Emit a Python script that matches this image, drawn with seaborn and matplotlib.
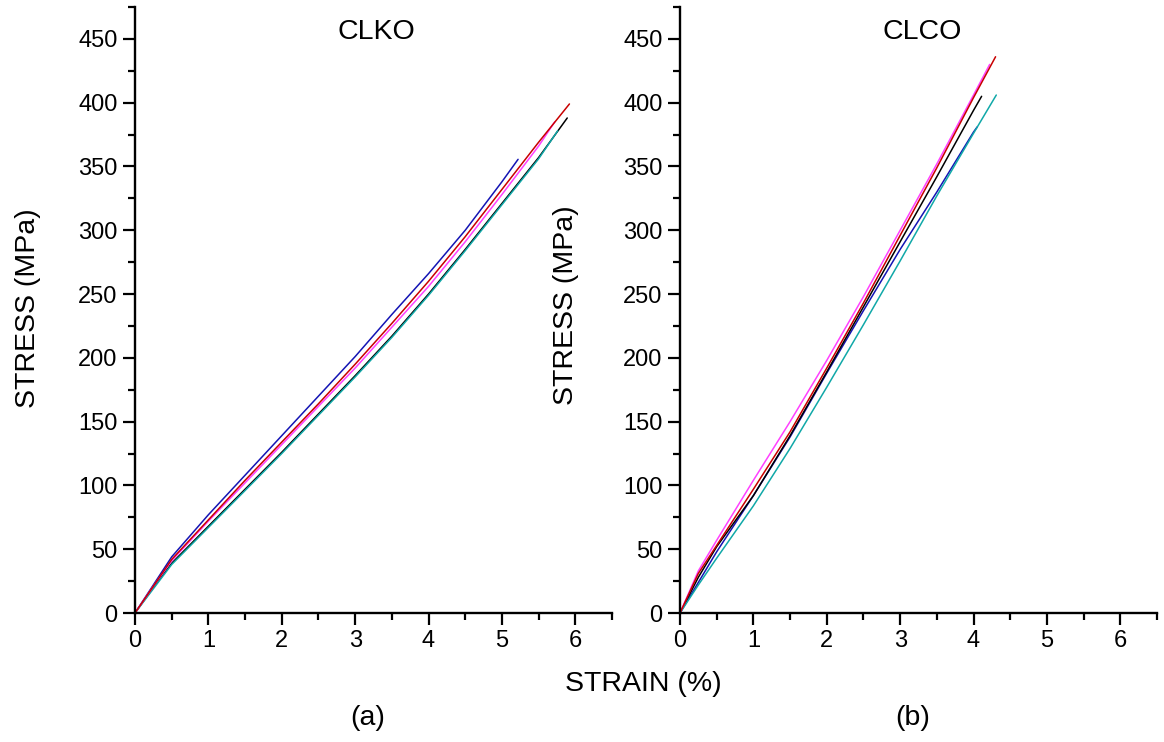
import numpy as np
import pandas as pd
import matplotlib
matplotlib.use("Agg")
import matplotlib.pyplot as plt
import seaborn as sns
from matplotlib.ticker import MultipleLocator

sns.set_style("ticks")
plt.rcParams['font.family'] = ['Liberation Sans', 'DejaVu Sans']
plt.rcParams['text.color'] = 'black'
plt.rcParams['axes.edgecolor'] = 'black'
plt.rcParams['xtick.color'] = 'black'
plt.rcParams['ytick.color'] = 'black'

# ---------------- data (strain %, stress MPa) ----------------
# Panel (a): CLKO
clko_blue_x = [0, 0.25, 0.5, 1.0, 1.5, 2.0, 2.5, 3.0, 3.5, 4.0, 4.5, 5.0, 5.22]
clko_blue_y = [0, 22, 44, 77, 108, 139, 170, 201, 234, 266, 300, 338, 355.6]
clko_red_x = [0, 0.25, 0.5, 1.0, 1.5, 2.0, 2.5, 3.0, 3.5, 4.0, 4.5, 5.0, 5.5, 5.92]
clko_red_y = [0, 21, 42, 73, 104, 134, 164, 195, 227, 260, 295, 332, 369, 399]
clko_magenta_x = [0, 0.25, 0.5, 1.0, 1.5, 2.0, 2.5, 3.0, 3.5, 4.0, 4.5, 5.0, 5.5, 5.72]
clko_magenta_y = [0, 21, 41, 72, 102, 132, 162, 192, 224, 256, 291, 328, 366, 385]
clko_black_x = [0, 0.25, 0.5, 1.0, 1.5, 2.0, 2.5, 3.0, 3.5, 4.0, 4.5, 5.0, 5.5, 5.89]
clko_black_y = [0, 20, 39, 68, 97, 126, 156, 186, 217, 250, 285, 321, 357, 388]
clko_cyan_x = [0, 0.25, 0.5, 1.0, 1.5, 2.0, 2.5, 3.0, 3.5, 4.0, 4.5, 5.0, 5.5, 5.76]
clko_cyan_y = [0, 19, 38, 67, 96, 125, 155, 185, 216, 249, 284, 320, 356, 378]

# Panel (b): CLCO
clco_blue_x = [0, 0.25, 0.5, 1.0, 1.5, 2.0, 2.5, 3.0, 3.5, 4.0, 4.05]
clco_blue_y = [0, 24, 48, 92, 138, 188, 237, 285, 330, 377, 381]
clco_black_x = [0, 0.25, 0.5, 1.0, 1.5, 2.0, 2.5, 3.0, 3.5, 4.0, 4.11]
clco_black_y = [0, 28, 52, 92, 139, 189, 240, 291, 342, 394, 405]
clco_cyan_x = [0, 0.25, 0.5, 1.0, 1.5, 2.0, 2.5, 3.0, 3.5, 4.0, 4.31]
clco_cyan_y = [0, 22, 43, 84, 129, 177, 226, 276, 327, 376, 406]
clco_magenta_x = [0, 0.25, 0.5, 1.0, 1.5, 2.0, 2.5, 3.0, 3.5, 4.0, 4.22]
clco_magenta_y = [0, 33, 57, 104, 150, 198, 248, 300, 352, 406, 430]
clco_red_x = [0, 0.25, 0.5, 1.0, 1.5, 2.0, 2.5, 3.0, 3.5, 4.0, 4.30]
clco_red_y = [0, 31, 53, 97, 142, 192, 243, 296, 349, 404, 436]

COLORS = {
    'blue': '#1414b4',
    'red': '#c80000',
    'magenta': '#ff40ff',
    'black': '#000000',
    'cyan': '#10a8a8',
}

def frame(series):
    rows = []
    for name, xs, ys in series:
        for x, y in zip(xs, ys):
            rows.append({'sample': name, 'strain': x, 'stress': y})
    return pd.DataFrame(rows)

df_a = frame([
    ('blue', clko_blue_x, clko_blue_y),
    ('black', clko_black_x, clko_black_y),
    ('cyan', clko_cyan_x, clko_cyan_y),
    ('magenta', clko_magenta_x, clko_magenta_y),
    ('red', clko_red_x, clko_red_y),
])
df_b = frame([
    ('blue', clco_blue_x, clco_blue_y),
    ('black', clco_black_x, clco_black_y),
    ('cyan', clco_cyan_x, clco_cyan_y),
    ('magenta', clco_magenta_x, clco_magenta_y),
    ('red', clco_red_x, clco_red_y),
])

fig = plt.figure(figsize=(11.64, 7.42), dpi=100)
ax1 = fig.add_axes([135/1164, 1-613/742, 477/1164, 606/742])
ax2 = fig.add_axes([680/1164, 1-613/742, 477/1164, 606/742])

for ax, df in [(ax1, df_a), (ax2, df_b)]:
    sns.lineplot(data=df, x='strain', y='stress', hue='sample', units='sample',
                 estimator=None, sort=False, palette=COLORS, linewidth=1.1,
                 legend=False, ax=ax)
    ax.set_xlim(0, 6.5)
    ax.set_ylim(0, 475)
    ax.xaxis.set_major_locator(MultipleLocator(1))
    ax.xaxis.set_minor_locator(MultipleLocator(0.5))
    ax.yaxis.set_major_locator(MultipleLocator(50))
    ax.yaxis.set_minor_locator(MultipleLocator(25))
    for s in ['top', 'right']:
        ax.spines[s].set_visible(False)
    for s in ['left', 'bottom']:
        ax.spines[s].set_linewidth(1.7)
        ax.spines[s].set_color('black')
    ax.tick_params(which='major', direction='out', length=8.5, width=1.6,
                   labelsize=17, pad=4, colors='black')
    ax.tick_params(which='minor', direction='out', length=5, width=1.6,
                   colors='black')
    ax.set_xlabel('')
    ax.set_ylabel('')

FS = 20.5
fig.text(376/1164, 1-32/742, 'CLKO', ha='center', va='center', fontsize=FS)
fig.text(922/1164, 1-32/742, 'CLCO', ha='center', va='center', fontsize=FS)
fig.text(643/1164, 1-684/742, 'STRAIN (%)', ha='center', va='center', fontsize=FS)
fig.text(368/1164, 1-718/742, '(a)', ha='center', va='center', fontsize=FS)
fig.text(913/1164, 1-718/742, '(b)', ha='center', va='center', fontsize=FS)
fig.text(28/1164, 1-308/742, 'STRESS (MPa)', ha='center', va='center',
         rotation=90, fontsize=FS)
fig.text(566/1164, 1-305/742, 'STRESS (MPa)', ha='center', va='center',
         rotation=90, fontsize=FS)

fig.savefig('out.png', dpi=100)
